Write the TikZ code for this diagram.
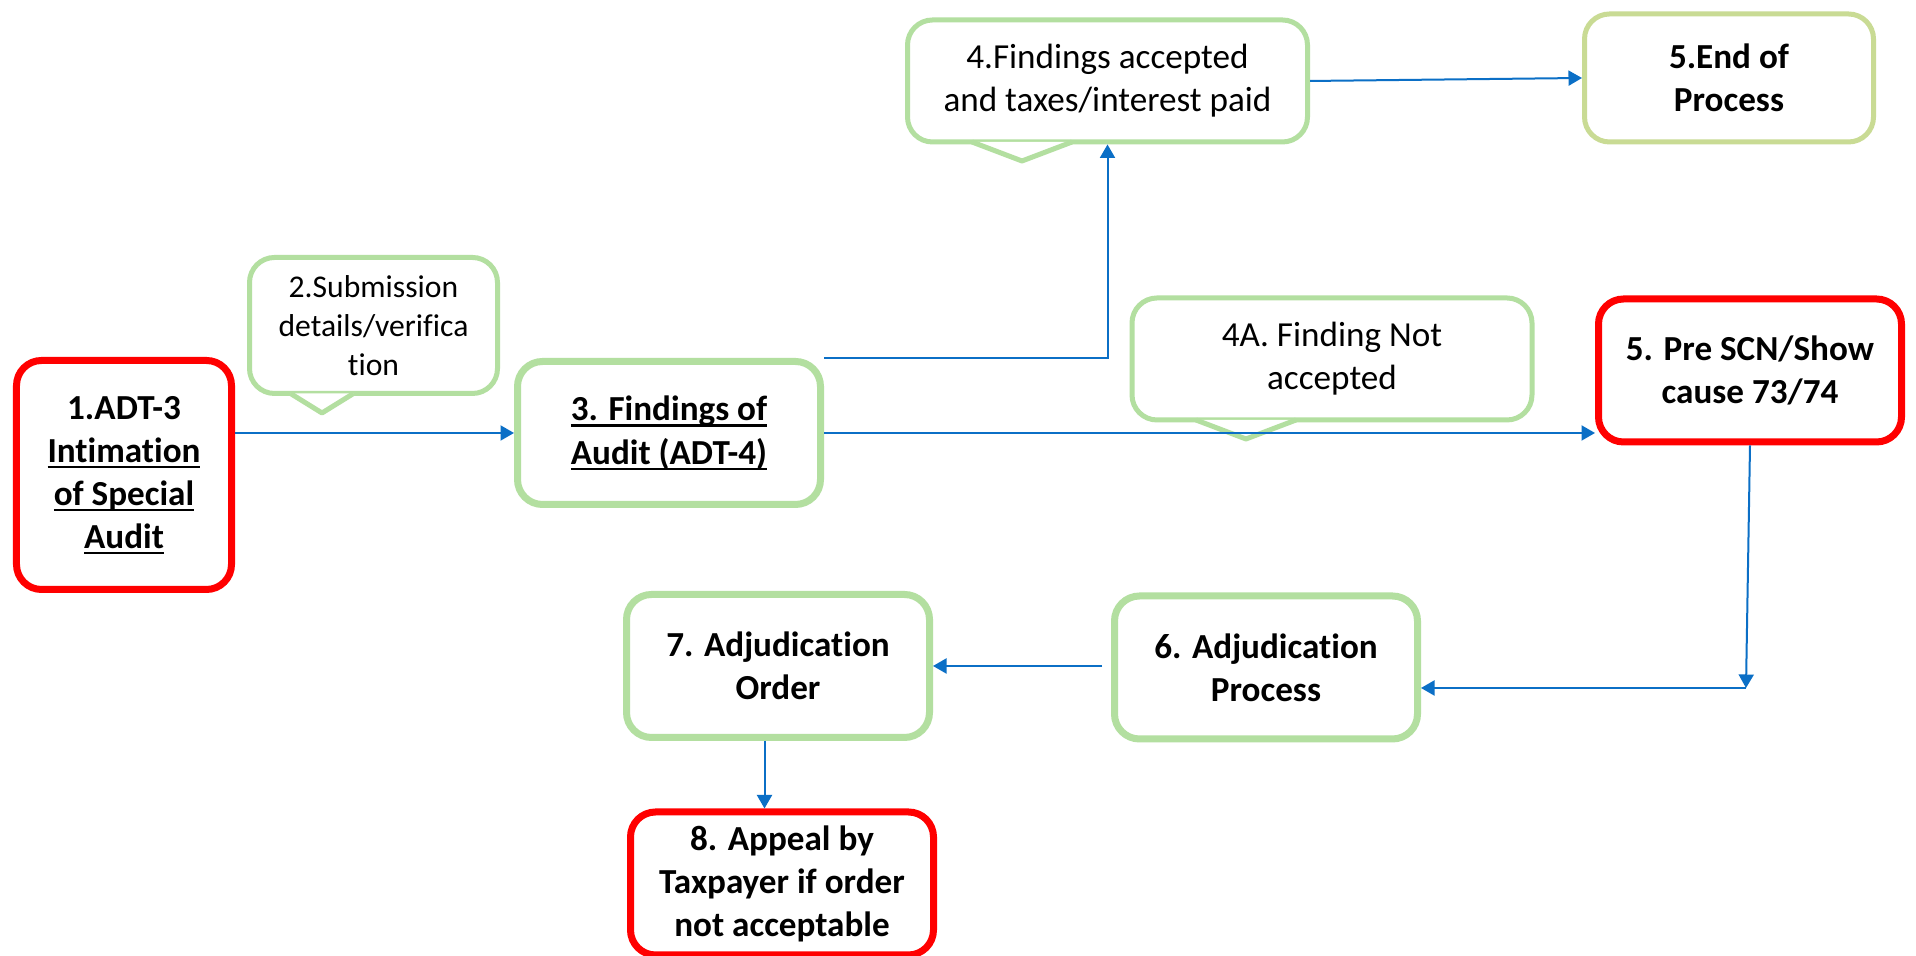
\documentclass[tikz,border=0pt]{standalone}
\usepackage{fontspec}
\setmainfont{Carlito}[Ligatures=NoCommon]
\usetikzlibrary{arrows.meta,calc}

\definecolor{boxred}{HTML}{FF0000}
\definecolor{boxgreen}{HTML}{B3DFA0}
\definecolor{endgreen}{HTML}{C9DB94}
\definecolor{arrowblue}{HTML}{0B6FC6}

% underlined line of text
\newcommand{\uline}[1]{\setbox0\hbox{#1}\rlap{\rule[-3.2pt]{\wd0}{1.2pt}}\box0}

\begin{document}
\begin{tikzpicture}[
redbox/.style={
rectangle,draw=boxred,line width=0.14cm,rounded corners=0.5cm,
align=center,
font=\fontsize{20}{24.5}\selectfont\bfseries,
minimum width=6.06cm,
minimum height=2.86cm
},
greenbox/.style={
redbox,draw=boxgreen
},
bubble/.style={
rectangle,draw=boxgreen,line width=0.1cm,rounded corners=0.5cm,
align=center,
font=\fontsize{20}{24.5}\selectfont,
minimum width=8cm,
minimum height=2.44cm
},
tail/.style={draw=boxgreen,line width=0.1cm,fill=white,line join=round},
arrow/.style={-{Triangle[length=0.27cm,width=0.3cm]}, line width=0.04cm, arrowblue}
]

\useasboundingbox[fill=white] (0,0) rectangle (38.32,19.12);

% =======================
% TOP ROW
% =======================

\node[redbox,minimum width=4.3cm,minimum height=4.58cm] (adt) at (2.48,9.62)
{1.ADT-3\\\uline{Intimation}\\\uline{of Special}\\\uline{Audit}};

\node[bubble,minimum width=4.96cm,minimum height=2.72cm,
font=\fontsize{18}{22}\selectfont] (submit) at (7.47,12.61)
{2.Submission\\details/verifica\\tion};
\coordinate (submittip) at (6.44,10.86);

\node[greenbox] (findings) at (13.38,10.46)
{\uline{3. Findings of}\\\uline{Audit (ADT-4)}};

\node[bubble] (accepted) at (22.15,17.50)
{4.Findings accepted\\and taxes/interest paid};
\coordinate (acceptedtip) at (20.44,15.90);

\node[greenbox,draw=endgreen,line width=0.1cm,minimum width=5.78cm,minimum height=2.56cm] (endproc) at (34.58,17.56)
{5.End of\\Process};

\node[bubble] (rejected) at (26.64,11.94)
{4A. Finding Not\\accepted};
\coordinate (rejectedtip) at (24.92,10.34);

\node[redbox] (scn) at (35.0,11.71)
{5. Pre SCN/Show\\cause 73/74};

% callout tails
\filldraw[tail] ($(submit.south -| submittip)+(-0.63,0.05)$) -- (submittip) -- ($(submit.south -| submittip)+(0.63,0.05)$);
\filldraw[tail] ($(accepted.south -| acceptedtip)+(-1,0.05)$) -- (acceptedtip) -- ($(accepted.south -| acceptedtip)+(1,0.05)$);
\filldraw[tail] ($(rejected.south -| rejectedtip)+(-1,0.05)$) -- (rejectedtip) -- ($(rejected.south -| rejectedtip)+(1,0.05)$);

% =======================
% BOTTOM ROW
% =======================

\node[greenbox] (process) at (25.32,5.77)
{6. Adjudication\\Process};

\node[greenbox] (order) at (15.56,5.80)
{7. Adjudication\\Order};

\node[redbox] (appeal) at (15.64,1.45)
{8. Appeal by\\Taxpayer if order\\not acceptable};

\coordinate (turn) at (34.92,5.36);

% =======================
% ARROWS
% =======================

\draw[arrow] (findings.west -| adt.east) -- (findings.west);
\draw[arrow] (findings.north east) -| (accepted.south);
\draw[arrow] (accepted.east) -- (endproc.west);
\draw[arrow] (findings.east) -- (findings.east -| scn.west);
\draw[arrow] (scn.south) -- (turn);
\draw[arrow] (turn) -- (turn -| process.east);
\draw[arrow,shorten <=0.18cm] (order.east -| process.west) -- (order.east);
\draw[arrow] ([xshift=-0.27cm]order.south) -- ([xshift=-0.27cm]order.south |- appeal.north);

\end{tikzpicture}
\end{document}
